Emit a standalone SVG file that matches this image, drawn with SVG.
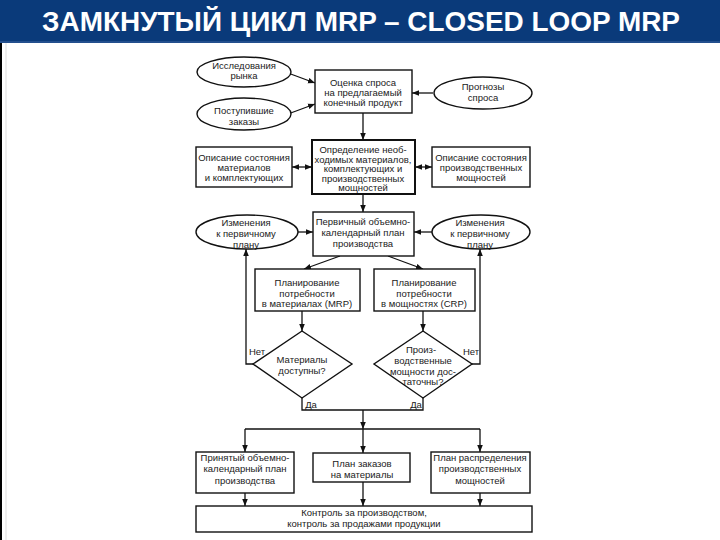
<svg xmlns="http://www.w3.org/2000/svg" width="720" height="540" viewBox="0 0 720 540">
<defs>
<marker id="ah" viewBox="0 0 10 10" refX="10" refY="5" markerWidth="7" markerHeight="7" orient="auto-start-reverse" markerUnits="userSpaceOnUse">
<path d="M0,1 L10,5 L0,9 z" fill="#111"/>
</marker>
<style>
.b{fill:#fff;stroke:#111;stroke-width:1.4}
.bt{fill:#fff;stroke:#111;stroke-width:2}
.t{font-family:"Liberation Sans",Arial,sans-serif;font-size:9.5px;fill:#1a1a1a;text-anchor:middle}
.l{fill:none;stroke:#111;stroke-width:1.3}
.a{fill:none;stroke:#111;stroke-width:1.3;marker-end:url(#ah)}
.d{fill:none;stroke:#111;stroke-width:1.3;marker-start:url(#ah);marker-end:url(#ah)}
.title{font-family:"Liberation Sans",Arial,sans-serif;font-weight:bold;font-size:27px;fill:#fff;text-anchor:middle}
</style>
</defs>
<rect x="0" y="0" width="720" height="540" fill="#fff"/>
<rect x="0" y="0" width="720" height="43" fill="#0a3a7a"/>
<line x1="0" y1="42" x2="720" y2="42" stroke="#3d64a0" stroke-width="1"/>
<text class="title" x="361" y="31" textLength="638" lengthAdjust="spacingAndGlyphs">ЗАМКНУТЫЙ ЦИКЛ MRP – CLOSED LOOP MRP</text>
<line x1="1" y1="43" x2="1" y2="540" stroke="#000" stroke-width="2"/>
<line x1="6" y1="43" x2="6" y2="540" stroke="#ddd" stroke-width="1"/>

<g id="connectors">
<line class="a" x1="288" y1="73" x2="315" y2="83"/>
<line class="a" x1="288" y1="114" x2="315" y2="104"/>
<line class="a" x1="433" y1="93" x2="412" y2="93"/>
<line class="a" x1="363" y1="113" x2="363" y2="140"/>
<line class="d" x1="292" y1="167" x2="312" y2="167"/>
<line class="d" x1="415" y1="167" x2="432" y2="167"/>
<line class="a" x1="363" y1="194" x2="363" y2="212"/>
<line class="a" x1="298" y1="232" x2="313" y2="232"/>
<line class="a" x1="432" y1="232" x2="414" y2="232"/>
<line class="a" x1="340" y1="256" x2="304" y2="269"/>
<line class="a" x1="388" y1="256" x2="423" y2="269"/>
<line class="a" x1="302" y1="311" x2="302" y2="331"/>
<line class="a" x1="423" y1="311" x2="423" y2="331"/>
<polyline class="a" points="253,364 246,364 246,249"/>
<polyline class="a" points="472,364 480,364 480,249"/>
<polyline class="l" points="302,398 302,410 423,410 423,398"/>
<line class="a" x1="363" y1="410" x2="363" y2="429"/>
<line class="l" x1="245" y1="429" x2="480" y2="429"/>
<line class="a" x1="245" y1="429" x2="245" y2="452"/>
<line class="a" x1="363" y1="429" x2="363" y2="453"/>
<line class="a" x1="480" y1="429" x2="480" y2="452"/>
<line class="a" x1="245" y1="493" x2="245" y2="506"/>
<line class="a" x1="363" y1="482" x2="363" y2="506"/>
<line class="a" x1="480" y1="493" x2="480" y2="506"/>
</g>

<g id="n-market">
<ellipse class="b" cx="244" cy="72" rx="47" ry="15"/>
<text class="t" x="244" y="69">Исследования</text>
<text class="t" x="244" y="79">рынка</text>
</g>
<g id="n-orders">
<ellipse class="b" cx="244" cy="114" rx="47" ry="16"/>
<text class="t" x="244" y="114">Поступившие</text>
<text class="t" x="244" y="125">заказы</text>
</g>
<g id="n-demand">
<rect class="b" x="315" y="70" width="97" height="43"/>
<text class="t" x="363" y="86">Оценка спроса</text>
<text class="t" x="363" y="96">на предлагаемый</text>
<text class="t" x="363" y="106">конечный продукт</text>
</g>
<g id="n-forecast">
<ellipse class="b" cx="483" cy="93" rx="49" ry="16"/>
<text class="t" x="483" y="90">Прогнозы</text>
<text class="t" x="483" y="101">спроса</text>
</g>
<g id="n-define">
<rect class="bt" x="312" y="140" width="103" height="54"/>
<text class="t" x="363" y="153">Определение необ-</text>
<text class="t" x="363" y="162.5">ходимых материалов,</text>
<text class="t" x="363" y="172">комплектующих и</text>
<text class="t" x="363" y="181.5">производственных</text>
<text class="t" x="363" y="191">мощностей</text>
</g>
<g id="n-matstate">
<rect class="b" x="196" y="147" width="96" height="40"/>
<text class="t" x="244" y="161">Описание состояния</text>
<text class="t" x="244" y="171">материалов</text>
<text class="t" x="244" y="181">и комплектующих</text>
</g>
<g id="n-capstate">
<rect class="b" x="432" y="147" width="98" height="40"/>
<text class="t" x="481" y="161">Описание состояния</text>
<text class="t" x="481" y="171">производственных</text>
<text class="t" x="481" y="181">мощностей</text>
</g>
<g id="n-change-left">
<ellipse class="b" cx="247" cy="232" rx="51" ry="17"/>
<text class="t" x="246" y="226">Изменения</text>
<text class="t" x="246" y="237">к первичному</text>
<text class="t" x="246" y="248">плану</text>
</g>
<g id="n-mps">
<rect class="b" x="313" y="212" width="101" height="44"/>
<text class="t" x="363" y="225">Первичный объемно-</text>
<text class="t" x="363" y="236">календарный план</text>
<text class="t" x="363" y="247">производства</text>
</g>
<g id="n-change-right">
<ellipse class="b" cx="481" cy="232" rx="49" ry="17"/>
<text class="t" x="480" y="226">Изменения</text>
<text class="t" x="480" y="237">к первичному</text>
<text class="t" x="480" y="248">плану</text>
</g>
<g id="n-mrp">
<rect class="b" x="255" y="269" width="105" height="42"/>
<text class="t" x="307" y="286">Планирование</text>
<text class="t" x="307" y="297">потребности</text>
<text class="t" x="307" y="307">в материалах (MRP)</text>
</g>
<g id="n-crp">
<rect class="b" x="374" y="269" width="101" height="42"/>
<text class="t" x="424" y="286">Планирование</text>
<text class="t" x="424" y="297">потребности</text>
<text class="t" x="424" y="307">в мощностях (CRP)</text>
</g>
<g id="n-matavail">
<polygon class="b" points="302,331 352,364 302,398 253,364"/>
<text class="t" x="302" y="363">Материалы</text>
<text class="t" x="302" y="374">доступны?</text>
</g>
<g id="n-capavail">
<polygon class="b" points="423,331 472,364 423,398 374,364"/>
<text class="t" x="421" y="353">Произ-</text>
<text class="t" x="423" y="364">водственные</text>
<text class="t" x="423" y="375">мощности дос-</text>
<text class="t" x="423" y="385">таточны?</text>
</g>
<g id="labels">
<text class="t" x="257" y="355">Нет</text>
<text class="t" x="471" y="355">Нет</text>
<text class="t" x="311" y="408">Да</text>
<text class="t" x="416" y="408">Да</text>
</g>
<g id="n-accepted">
<rect class="b" x="196" y="452" width="98" height="41"/>
<text class="t" x="245" y="461">Принятый объемно-</text>
<text class="t" x="245" y="472">календарный план</text>
<text class="t" x="245" y="484">производства</text>
</g>
<g id="n-orderplan">
<rect class="b" x="313" y="453" width="97" height="29"/>
<text class="t" x="362" y="467">План заказов</text>
<text class="t" x="362" y="478">на материалы</text>
</g>
<g id="n-capplan">
<rect class="b" x="431" y="452" width="99" height="41"/>
<text class="t" x="480" y="461">План распределения</text>
<text class="t" x="480" y="472">производственных</text>
<text class="t" x="480" y="484">мощностей</text>
</g>
<g id="n-control">
<rect class="b" x="196" y="506" width="336" height="26"/>
<text class="t" x="364" y="516">Контроль за производством,</text>
<text class="t" x="364" y="527">контроль за продажами продукции</text>
</g>
</svg>
